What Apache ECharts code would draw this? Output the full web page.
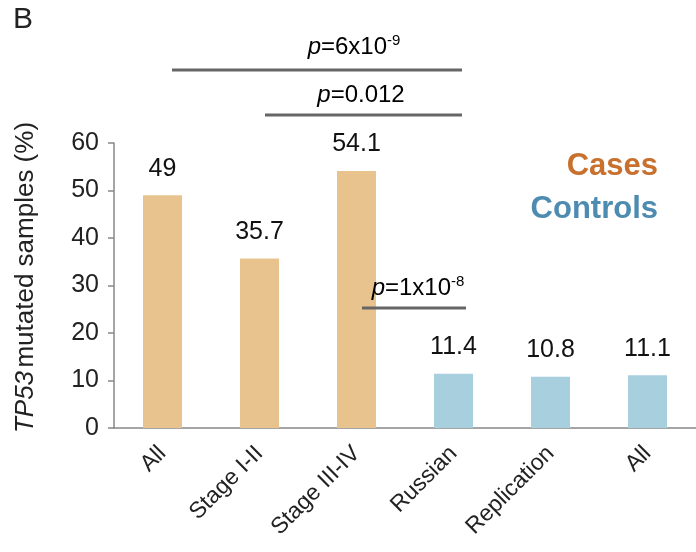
<!DOCTYPE html>
<html><head><meta charset="utf-8">
<script src="https://cdn.jsdelivr.net/npm/echarts@6/dist/echarts.min.js"></script>
<style>html,body{margin:0;padding:0;background:#fff}#c{width:696px;height:552px}</style>
</head><body><div id="c"></div>
<script>
const categories = ['All', 'Stage I-II', 'Stage III-IV', 'Russian', 'Replication', 'All'];
const values = [49, 35.7, 54.1, 11.4, 10.8, 11.1];
const groups = ['case', 'case', 'case', 'control', 'control', 'control'];
const yTicks = [0, 10, 20, 30, 40, 50, 60];
const colors = {case: '#E9C38E', control: '#A7CFDE'};

const chart = echarts.init(document.getElementById('c'));
const F = 'Liberation Sans, Arial, sans-serif';
const pRich = {
  i: {fontStyle: 'italic', fontSize: 24, fontFamily: F, color: '#333'},
  n: {fontSize: 24, fontFamily: F, color: '#333'},
  s: {fontSize: 15, fontFamily: F, color: '#333', verticalAlign: 'top', padding: [0, 0, 12, 0]}
};
function pLine(x1, x2, y) {
  return {type: 'line', z: 20, shape: {x1: x1, y1: y, x2: x2, y2: y}, style: {stroke: '#666', lineWidth: 3}};
}
function pText(x, y, str) {
  return {type: 'text', z: 20, x: x, y: y, style: {text: str, rich: pRich, align: 'center', verticalAlign: 'middle'}};
}
chart.setOption({
  animation: false,
  grid: {left: 114, top: 143, width: 590, height: 285},
  xAxis: {
    type: 'category', data: categories,
    axisLine: {lineStyle: {color: '#888', width: 1.5}},
    axisTick: {length: 6, lineStyle: {color: '#888', width: 1.5}},
    axisLabel: {rotate: 45, fontSize: 23, fontFamily: F, color: '#222', margin: 22, padding: [14, 0, 0, 0]}
  },
  yAxis: {
    type: 'value', min: 0, max: 60, interval: 10,
    splitLine: {show: false},
    axisLine: {show: true, lineStyle: {color: '#888', width: 1.5}},
    axisTick: {show: true, length: 6, lineStyle: {color: '#888', width: 1.5}},
    axisLabel: {fontSize: 25, fontFamily: F, color: '#222', margin: 15},
    name: '{i|TP53} {n|mutated samples (%)}',
    nameLocation: 'middle', nameGap: 75, nameRotate: 90,
    nameTextStyle: {padding: [0, 0, 0, 16], rich: {
      i: {fontStyle: 'italic', fontSize: 26, fontFamily: F, color: '#222'},
      n: {fontSize: 26, fontFamily: F, color: '#222'}
    }}
  },
  series: [{
    type: 'bar', barWidth: 39,
    data: values.map((v, i) => ({value: v, itemStyle: {color: colors[groups[i]]}})),
    label: {show: true, position: 'top', distance: 14, fontSize: 25, fontFamily: F, color: '#111'}
  }],
  graphic: [
    {type: 'text', z: 20, x: 13, y: 5, style: {text: 'B', fontSize: 30, fontFamily: F, fill: '#222'}},
    pLine(172, 462, 70), pText(354, 47, '{i|p}{n|=6x10}{s|-9}'),
    pLine(265, 462, 115), pText(361, 95, '{i|p}{n|=0.012}'),
    pLine(362, 466, 308), pText(418, 288, '{i|p}{n|=1x10}{s|-8}'),
    {type: 'text', z: 20, x: 658, y: 166, style: {text: 'Cases', fontSize: 31, fontWeight: 'bold', fontFamily: F, fill: '#C8702E', align: 'right', verticalAlign: 'middle'}},
    {type: 'text', z: 20, x: 658, y: 209, style: {text: 'Controls', fontSize: 31, fontWeight: 'bold', fontFamily: F, fill: '#4E8BB1', align: 'right', verticalAlign: 'middle'}}
  ]
});
</script></body></html>
